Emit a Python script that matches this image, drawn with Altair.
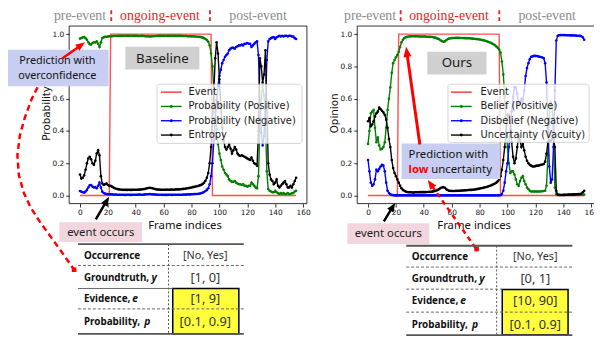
import math
import altair as alt
import pandas as pd

# ---------------- data ----------------
FRAMES = list(range(156))

LEFT_POS = [
    0.972, 0.976, 0.980, 0.982, 0.975, 0.965, 0.950, 0.937, 0.935, 0.945,
    0.950, 0.948, 0.955, 0.940, 0.920, 0.950, 0.976, 0.980, 0.983, 0.984,
    0.985, 0.986, 0.987, 0.987, 0.988, 0.988, 0.988, 0.989, 0.989, 0.989,
    0.989, 0.989, 0.990, 0.990, 0.989, 0.989, 0.990, 0.990, 0.989, 0.989,
    0.989, 0.989, 0.988, 0.988, 0.989, 0.989, 0.988, 0.987, 0.986, 0.986,
    0.985, 0.986, 0.987, 0.987, 0.988, 0.988, 0.989, 0.989, 0.989, 0.989,
    0.989, 0.990, 0.990, 0.989, 0.989, 0.989, 0.990, 0.989, 0.989, 0.989,
    0.989, 0.989, 0.989, 0.989, 0.988, 0.988, 0.988, 0.987, 0.987, 0.987,
    0.986, 0.986, 0.985, 0.985, 0.984, 0.984, 0.983, 0.981, 0.978, 0.975,
    0.970, 0.963, 0.953, 0.930, 0.880, 0.800, 0.660, 0.520, 0.410, 0.320,
    0.260, 0.220, 0.180, 0.160, 0.140, 0.130, 0.120, 0.100, 0.090, 0.085,
    0.085, 0.090, 0.080, 0.075, 0.070, 0.070, 0.065, 0.070, 0.060, 0.060,
    0.055, 0.060, 0.060, 0.080, 0.070, 0.060, 0.050, 0.045, 0.120, 0.420,
    0.600, 0.680, 0.620, 0.450, 0.150, 0.040, 0.030, 0.025, 0.020, 0.020,
    0.030, 0.020, 0.015, 0.010, 0.015, 0.010, 0.015, 0.010, 0.010, 0.015,
    0.010, 0.010, 0.015, 0.015, 0.025, 0.030,
]
LEFT_NEG = [
    0.028, 0.024, 0.020, 0.018, 0.025, 0.035, 0.050, 0.063, 0.065, 0.055,
    0.050, 0.052, 0.045, 0.060, 0.080, 0.050, 0.024, 0.016, 0.012, 0.010,
    0.009, 0.008, 0.007, 0.007, 0.006, 0.006, 0.006, 0.005, 0.005, 0.005,
    0.005, 0.005, 0.004, 0.004, 0.005, 0.005, 0.004, 0.004, 0.005, 0.005,
    0.005, 0.005, 0.006, 0.006, 0.005, 0.005, 0.006, 0.007, 0.008, 0.008,
    0.009, 0.008, 0.007, 0.007, 0.006, 0.006, 0.005, 0.005, 0.005, 0.005,
    0.005, 0.004, 0.004, 0.005, 0.005, 0.005, 0.004, 0.005, 0.005, 0.005,
    0.005, 0.005, 0.005, 0.005, 0.006, 0.006, 0.006, 0.007, 0.007, 0.007,
    0.008, 0.008, 0.009, 0.010, 0.010, 0.011, 0.012, 0.014, 0.018, 0.022,
    0.028, 0.035, 0.045, 0.070, 0.120, 0.200, 0.340, 0.480, 0.590, 0.680,
    0.740, 0.780, 0.820, 0.840, 0.860, 0.870, 0.880, 0.900, 0.910, 0.915,
    0.915, 0.910, 0.920, 0.925, 0.930, 0.930, 0.935, 0.930, 0.940, 0.940,
    0.945, 0.940, 0.940, 0.920, 0.930, 0.940, 0.950, 0.955, 0.870, 0.570,
    0.390, 0.310, 0.370, 0.540, 0.840, 0.955, 0.970, 0.975, 0.980, 0.980,
    0.970, 0.980, 0.985, 0.990, 0.985, 0.990, 0.985, 0.990, 0.990, 0.985,
    0.990, 0.990, 0.985, 0.985, 0.975, 0.970,
]
LEFT_ENT = [
    0.130, 0.105, 0.110, 0.125, 0.160, 0.200, 0.230, 0.240, 0.225, 0.200,
    0.190, 0.215, 0.260, 0.280, 0.250, 0.120, 0.075, 0.065, 0.070, 0.075,
    0.065, 0.060, 0.060, 0.055, 0.050, 0.045, 0.042, 0.040, 0.038, 0.037,
    0.036, 0.035, 0.036, 0.035, 0.035, 0.036, 0.035, 0.035, 0.036, 0.036,
    0.036, 0.036, 0.037, 0.037, 0.038, 0.039, 0.040, 0.042, 0.045, 0.047,
    0.048, 0.047, 0.045, 0.042, 0.040, 0.038, 0.037, 0.037, 0.036, 0.036,
    0.036, 0.036, 0.037, 0.036, 0.036, 0.037, 0.037, 0.036, 0.037, 0.038,
    0.038, 0.038, 0.039, 0.040, 0.041, 0.042, 0.043, 0.045, 0.046, 0.048,
    0.050, 0.052, 0.054, 0.056, 0.058, 0.060, 0.063, 0.066, 0.072, 0.080,
    0.092, 0.110, 0.140, 0.200, 0.300, 0.450, 0.650, 0.850, 0.950, 0.880,
    0.720, 0.550, 0.420, 0.340, 0.300, 0.285, 0.300, 0.320, 0.290, 0.260,
    0.280, 0.300, 0.285, 0.260, 0.250, 0.245, 0.250, 0.245, 0.240, 0.235,
    0.230, 0.225, 0.220, 0.235, 0.215, 0.200, 0.195, 0.185, 0.400, 0.850,
    0.800, 0.700, 0.750, 0.900, 0.550, 0.200, 0.130, 0.100, 0.090, 0.070,
    0.080, 0.100, 0.060, 0.050, 0.060, 0.070, 0.080, 0.090, 0.070, 0.050,
    0.050, 0.060, 0.050, 0.070, 0.090, 0.110,
]
RIGHT_BEL = [
    0.320, 0.400, 0.510, 0.520, 0.530, 0.420, 0.330, 0.360, 0.310, 0.285,
    0.290, 0.300, 0.330, 0.420, 0.530, 0.600, 0.670, 0.760, 0.820, 0.840,
    0.856, 0.870, 0.890, 0.920, 0.950, 0.965, 0.975, 0.980, 0.983, 0.985,
    0.986, 0.986, 0.987, 0.987, 0.986, 0.986, 0.986, 0.985, 0.985, 0.985,
    0.985, 0.985, 0.984, 0.984, 0.983, 0.983, 0.982, 0.980, 0.978, 0.975,
    0.972, 0.968, 0.962, 0.957, 0.953, 0.955, 0.962, 0.968, 0.972, 0.974,
    0.975, 0.976, 0.976, 0.977, 0.977, 0.977, 0.976, 0.976, 0.976, 0.975,
    0.975, 0.975, 0.974, 0.974, 0.973, 0.972, 0.971, 0.970, 0.969, 0.968,
    0.967, 0.965, 0.963, 0.961, 0.959, 0.956, 0.953, 0.950, 0.946, 0.942,
    0.937, 0.931, 0.924, 0.915, 0.905, 0.885, 0.830, 0.750, 0.620, 0.450,
    0.300, 0.200, 0.140, 0.150, 0.150, 0.130, 0.100, 0.070, 0.060, 0.090,
    0.110, 0.120, 0.090, 0.070, 0.050, 0.040, 0.030, 0.025, 0.025, 0.025,
    0.025, 0.025, 0.025, 0.025, 0.026, 0.027, 0.028, 0.030, 0.060, 0.250,
    0.480, 0.580, 0.550, 0.350, 0.050, 0.010, 0.004, 0.003, 0.003, 0.003,
    0.003, 0.003, 0.003, 0.004, 0.004, 0.004, 0.004, 0.004, 0.004, 0.004,
    0.004, 0.004, 0.004, 0.005, 0.005, 0.006,
]
RIGHT_DIS = [
    0.220, 0.150, 0.080, 0.060, 0.070, 0.100, 0.160, 0.150, 0.165, 0.180,
    0.190, 0.185, 0.150, 0.080, 0.030, 0.015, 0.008, 0.004, 0.002, 0.001,
    0.001, 0.001, 0.001, 0.001, 0.001, 0.001, 0.001, 0.001, 0.001, 0.001,
    0.001, 0.001, 0.001, 0.001, 0.001, 0.001, 0.001, 0.001, 0.001, 0.001,
    0.001, 0.001, 0.001, 0.001, 0.001, 0.001, 0.001, 0.001, 0.001, 0.001,
    0.001, 0.001, 0.001, 0.001, 0.001, 0.001, 0.001, 0.001, 0.001, 0.001,
    0.001, 0.001, 0.001, 0.001, 0.001, 0.001, 0.001, 0.001, 0.001, 0.001,
    0.001, 0.001, 0.001, 0.001, 0.001, 0.001, 0.001, 0.001, 0.001, 0.001,
    0.001, 0.001, 0.001, 0.001, 0.001, 0.001, 0.001, 0.001, 0.001, 0.001,
    0.001, 0.001, 0.001, 0.001, 0.001, 0.002, 0.010, 0.030, 0.080, 0.150,
    0.200, 0.300, 0.410, 0.520, 0.610, 0.670, 0.670, 0.630, 0.570, 0.570,
    0.600, 0.580, 0.650, 0.740, 0.790, 0.820, 0.845, 0.860, 0.862, 0.865,
    0.865, 0.864, 0.862, 0.860, 0.858, 0.855, 0.850, 0.820, 0.700, 0.420,
    0.180, 0.080, 0.100, 0.300, 0.650, 0.960, 0.990, 0.993, 0.994, 0.994,
    0.994, 0.994, 0.993, 0.993, 0.993, 0.992, 0.992, 0.992, 0.991, 0.991,
    0.990, 0.990, 0.989, 0.987, 0.980, 0.965,
]
RIGHT_UNC = [
    0.460, 0.480, 0.430, 0.440, 0.460, 0.490, 0.510, 0.520, 0.545, 0.535,
    0.525, 0.515, 0.500, 0.470, 0.420, 0.350, 0.300, 0.220, 0.170, 0.140,
    0.120, 0.100, 0.080, 0.060, 0.045, 0.035, 0.030, 0.025, 0.022, 0.020,
    0.020, 0.020, 0.019, 0.019, 0.020, 0.020, 0.020, 0.021, 0.021, 0.021,
    0.021, 0.021, 0.022, 0.022, 0.023, 0.023, 0.024, 0.026, 0.028, 0.031,
    0.035, 0.040, 0.046, 0.050, 0.052, 0.048, 0.040, 0.034, 0.030, 0.029,
    0.028, 0.028, 0.028, 0.029, 0.029, 0.030, 0.030, 0.031, 0.031, 0.032,
    0.033, 0.033, 0.034, 0.035, 0.035, 0.036, 0.037, 0.038, 0.040, 0.041,
    0.043, 0.045, 0.047, 0.049, 0.051, 0.053, 0.056, 0.059, 0.062, 0.066,
    0.070, 0.075, 0.080, 0.088, 0.100, 0.120, 0.160, 0.220, 0.300, 0.400,
    0.500, 0.500, 0.450, 0.330, 0.240, 0.200, 0.230, 0.300, 0.370, 0.340,
    0.300, 0.320, 0.280, 0.240, 0.215, 0.200, 0.190, 0.185, 0.180, 0.180,
    0.182, 0.185, 0.185, 0.188, 0.190, 0.192, 0.195, 0.210, 0.260, 0.330,
    0.340, 0.340, 0.350, 0.350, 0.300, 0.030, 0.006, 0.004, 0.003, 0.003,
    0.004, 0.004, 0.005, 0.005, 0.006, 0.006, 0.006, 0.007, 0.007, 0.008,
    0.008, 0.009, 0.010, 0.012, 0.020, 0.030,
]
# event indicator as breakpoints of the step
EVENT_FRAMES = [0, 21, 22, 94, 95, 155]
EVENT_VALUES = [0, 0, 1, 1, 0, 0]

X_TICKS = [0, 20, 40, 60, 80, 100, 120, 140, 160]
Y_TICKS = [0.0, 0.2, 0.4, 0.6, 0.8, 1.0]

LEFT_LEGEND = ["Event", "Probability (Positive)", "Probability (Negative)", "Entropy"]
RIGHT_LEGEND = ["Event", "Belief (Positive)", "Disbelief (Negative)", "Uncertainty (Vacuity)"]
PHASES = ["pre-event", "ongoing-event", "post-event"]
ROW_LABELS = ["Occurrence", "Groundtruth,", "Evidence,", "Probability,"]
ROW_VARS = ["y", "e", "p"]
LEFT_VALUES = ["[No, Yes]", "[1, 0]", "[1, 9]", "[0.1, 0.9]"]
RIGHT_VALUES = ["[No, Yes]", "[0, 1]", "[10, 90]", "[0.1, 0.9]"]

# ---------------- layout ----------------
OX, OY = 70, 24          # image position of the view origin
PW, PH = 241, 180        # panel plot size
RX0 = 292                # right panel x offset inside the view
XDOM = [-7.75, 162.75]
YDOM = [-0.05, 1.05]
RED, GREEN, BLUE = "#ff0000", "#008000", "#0000ff"
EVENT_RED = "#ff3030"


def px(x):
    return x - OX


def py(y):
    return y - OY


XN = lambda f="x": alt.X(f + ":Q", scale=None, axis=None)
YN = lambda f="y": alt.Y(f + ":Q", scale=None, axis=None)


def panel(x0, series, ytitle, xtitle_x):
    xs = alt.Scale(domain=XDOM, range=[x0, x0 + PW], nice=False, zero=False)
    ys = alt.Scale(domain=YDOM, range=[PH, 0], nice=False, zero=False)
    xa = alt.Axis(orient="bottom", values=X_TICKS, format="d", grid=False, domain=False,
                  tickSize=3.5, tickWidth=0.8, tickColor="black",
                  labelFont="DejaVu Sans", labelFontSize=7.5, labelColor="#111",
                  labelPadding=1.5, labelFlush=False, labelOverlap=False,
                  title="Frame indices", titleFont="Noto Sans", titleFontSize=11.5,
                  titleFontWeight="normal", titleColor="#111",
                  titleX=xtitle_x, titleY=22.5, titleAlign="center", titleBaseline="middle")
    ya = alt.Axis(orient="left", offset=-x0, values=Y_TICKS, format=".1f", grid=False,
                  domain=False, tickSize=3.5, tickWidth=0.8, tickColor="black",
                  labelFont="DejaVu Sans", labelFontSize=7.5, labelColor="#111",
                  labelPadding=2,
                  title=ytitle, titleFont="DejaVu Sans", titleFontSize=10.5,
                  titleFontWeight="normal", titleColor="#111",
                  titleX=-22.5, titleY=88, titleAngle=270, titleAlign="center",
                  titleBaseline="middle")
    X = alt.X("frame:Q", scale=xs, axis=xa)
    Y = alt.Y("v:Q", scale=ys, axis=ya)
    layers = []
    ev = pd.DataFrame({"frame": EVENT_FRAMES, "v": EVENT_VALUES})
    layers.append(alt.Chart(ev).mark_line(color=EVENT_RED, strokeWidth=1.4, opacity=0.85)
                  .encode(x=X, y=Y))
    for vals, col in series:
        df = pd.DataFrame({"frame": FRAMES, "v": vals})
        layers.append(alt.Chart(df).mark_line(
            color=col, strokeWidth=1.4,
            point=alt.OverlayMarkDef(color=col, filled=True, size=7, opacity=1))
            .encode(x=X, y=Y))
    fr = pd.DataFrame({"frame": [XDOM[0]], "frame2": [XDOM[1]], "v": [YDOM[0]], "v2": [YDOM[1]]})
    layers.append(alt.Chart(fr).mark_rect(fillOpacity=0, stroke="black", strokeWidth=0.8)
                  .encode(x=X, x2="frame2:Q", y=Y, y2="v2:Q"))
    return alt.layer(*layers)


left = panel(0, [(LEFT_POS, GREEN), (LEFT_NEG, BLUE), (LEFT_ENT, "black")],
             "Probability", 117)
right = panel(RX0, [(RIGHT_BEL, GREEN), (RIGHT_DIS, BLUE), (RIGHT_UNC, "black")],
              "Opinion", 410)


def texts(items, **mk):
    df = pd.DataFrame([{"x": px(x), "y": py(y), "t": t} for (t, x, y) in items])
    return alt.Chart(df).mark_text(**mk).encode(x=XN(), y=YN(), text="t:N")


def rects(items, **mk):
    df = pd.DataFrame([{"x": px(a), "y": py(b), "x2": px(c), "y2": py(d)} for (a, b, c, d) in items])
    return alt.Chart(df).mark_rect(**mk).encode(x=XN(), x2="x2:Q", y=YN(), y2="y2:Q")


def rules(items, **mk):
    df = pd.DataFrame([{"x": px(a), "y": py(b), "x2": px(c), "y2": py(d)} for (a, b, c, d) in items])
    return alt.Chart(df).mark_rule(**mk).encode(x=XN(), x2="x2:Q", y=YN(), y2="y2:Q")


def points(items, **mk):
    df = pd.DataFrame([{"x": px(a), "y": py(b)} for (a, b) in items])
    return alt.Chart(df).mark_point(**mk).encode(x=XN(), y=YN())


def path(pts, **mk):
    df = pd.DataFrame([{"x": px(a), "y": py(b), "i": i} for i, (a, b) in enumerate(pts)])
    return alt.Chart(df).mark_line(**mk).encode(x=XN(), y=YN(), order="i:Q")


HEAD = "M0,-1L0.75,0.9L-0.75,0.9Z"


def arrow(tail, tip, color, width, head=110, dash=None):
    dx, dy = tip[0] - tail[0], tip[1] - tail[1]
    L = math.hypot(dx, dy)
    ux, uy = dx / L, dy / L
    r = math.sqrt(head) / 2
    cx, cy = tip[0] - ux * r, tip[1] - uy * r
    ang = math.degrees(math.atan2(dx, -dy)) % 360
    mk = dict(color=color, strokeWidth=width)
    if dash:
        mk["strokeDash"] = dash
    shaft = rules([(tail[0], tail[1], cx, cy)], **mk)
    hd = pd.DataFrame([{"x": px(cx), "y": py(cy), "a": ang}])
    headm = alt.Chart(hd).mark_point(shape=HEAD, filled=True, size=head, color=color,
                                     opacity=1, strokeWidth=0).encode(
        x=XN(), y=YN(), angle=alt.Angle("a:Q", scale=None))
    return [shaft, headm]


ann = []
# phase labels above the panels
GRAY_T = "#8c8c8c"
ann.append(texts([(PHASES[0], 81, 17.5), (PHASES[2], 261.5, 17.5),
                  (PHASES[0], 375, 17.5), (PHASES[2], 554.5, 17.5)],
                 font="Liberation Serif", fontSize=14, color=GRAY_T, align="center",
                 baseline="alphabetic"))
ann.append(texts([(PHASES[1], 162, 17.5), (PHASES[1], 455, 17.5)],
                 font="Liberation Serif", fontSize=14, color="#ee1c25", align="center",
                 baseline="alphabetic"))
ann.append(rules([(112.7, 8, 112.7, 22), (212.7, 8, 212.7, 22),
                  (406, 8, 406, 22), (506, 8, 506, 22)],
                 color="#ee1c25", strokeWidth=1.8, strokeDash=[4, 3]))

# legends
ROWS = [91, 105.5, 120, 134.5]
ann.append(rects([(159, 83, 306, 143), (454, 83, 597, 142)], fill="white", opacity=0.8,
                 stroke="#cccccc", strokeWidth=1, cornerRadius=2.5))
for hx0, hx1 in [(163, 184), (457, 478)]:
    for row, col in zip(ROWS, [EVENT_RED, GREEN, BLUE, "black"]):
        ann.append(rules([(hx0, row, hx1, row)], color=col, strokeWidth=1.4))
        if col != EVENT_RED:
            ann.append(points([((hx0 + hx1) / 2, row)], filled=True, size=9, color=col, opacity=1))
ann.append(texts([(t, 191, r) for t, r in zip(LEFT_LEGEND, ROWS)] +
                 [(t, 487, r) for t, r in zip(RIGHT_LEGEND, ROWS)],
                 font="DejaVu Sans", fontSize=10, color="#1a1a1a", align="left", baseline="middle"))

# method label boxes
ann.append(rects([(127, 45, 202, 68), (433, 50, 493, 73)], fill="#d0d0d0"))
ann.append(texts([("Baseline", 164.5, 57), ("Ours", 463, 62)], font="Noto Sans", fontSize=13.5,
                 color="#1a1a1a", align="center", baseline="middle"))

# callout boxes
ann.append(rects([(8, 48, 110, 85), (407, 143, 507, 179)], fill="#c8cdf2"))
ann.append(texts([("Prediction with", 58, 59), ("overconfidence", 58, 75)], font="Noto Sans",
                 fontSize=11, color="#111", align="center", baseline="middle"))
ann.append(texts([("Prediction with", 414, 154.5), ("uncertainty", 437, 169.5)], font="Noto Sans",
                 fontSize=11.5, color="#111", align="left", baseline="middle"))
ann.append(texts([("low", 414, 169.5)], font="Noto Sans", fontSize=11.5, fontWeight="bold",
                 color="#ff0000", align="left", baseline="middle"))

ann.append(rects([(60, 223, 144, 243), (352, 224, 435, 245)], fill="#f2d5dd"))
ann.append(texts([("event occurs", 102, 233.5), ("event occurs", 393.5, 234.5)], font="Noto Sans",
                 fontSize=11.5, color="#222", align="center", baseline="middle"))

# arrows
ann += arrow((63, 57), (86, 40.5), RED, 2.5, head=100)
ann += arrow((425.5, 144), (411.5, 45), RED, 3, head=120)
ann += arrow((97, 220), (110.5, 197), "black", 2.5, head=100)
ann += arrow((389, 222), (400.5, 203), "black", 2.5, head=100)
ann += arrow((482, 249), (433.5, 180), RED, 2.5, head=100, dash=[5, 4])
ann.append(path([(38, 86), (32, 98), (25, 117), (20, 135), (17.5, 155), (19, 175), (24, 193),
                 (31, 208), (40, 222), (53, 240), (66, 258), (75, 271)],
                color=RED, strokeWidth=2.5, strokeDash=[6, 4]))
ann.append(points([(75, 271), (483, 250)], shape="square", filled=True, size=22, color=RED, opacity=1))

# tables
ann.append(rects([(175, 290, 242, 336), (509, 291, 575.7, 337)], fill="#ffff3c",
                 stroke="black", strokeWidth=1.5))
ann.append(rules([(79, 245, 247, 245), (79, 336, 247, 336),
                  (411.7, 246.7, 580, 246.7), (411.7, 337.3, 580, 337.3)],
                 color="#555555", strokeWidth=1.8))
ann.append(rules([(79, 290, 175, 290)], color="#666666", strokeWidth=1))
ann.append(rules([(79, 266.7, 247, 266.7), (79, 310.7, 247, 310.7),
                  (411.7, 268.3, 580, 268.3), (411.7, 290.7, 509, 290.7), (411.7, 314, 580, 314)],
                 color="#666666", strokeWidth=1, strokeDash=[3, 2]))
ann.append(rules([(170.7, 245, 170.7, 336), (503.3, 246.7, 503.3, 337.3)],
                 color="#555555", strokeWidth=1, strokeDash=[2, 2]))

LROWS = [256.7, 279, 301, 324]
RROWS = [258.3, 280, 302.7, 326.7]
ann.append(texts([(t, 85, r) for t, r in zip(ROW_LABELS, LROWS)] +
                 [(t, 417.3, r) for t, r in zip(ROW_LABELS, RROWS)],
                 font="Noto Sans", fontSize=10, fontWeight="bold", color="#111",
                 align="left", baseline="middle"))
VAR_X = [153.5, 134, 146]
ann.append(texts([(v, x, r) for v, x, r in zip(ROW_VARS, VAR_X, LROWS[1:])] +
                 [(v, x + 332.3, r) for v, x, r in zip(ROW_VARS, VAR_X, RROWS[1:])],
                 font="Noto Sans", fontSize=10.5, fontWeight="bold", fontStyle="italic",
                 color="#111", align="left", baseline="middle"))
ann.append(texts([(LEFT_VALUES[0], 208, LROWS[0]), (RIGHT_VALUES[0], 542.5, RROWS[0])],
                 font="Noto Sans", fontSize=11, color="#333", align="center", baseline="middle"))
ann.append(texts([(t, 208, r) for t, r in zip(LEFT_VALUES[1:], LROWS[1:])] +
                 [(t, 542.5, r) for t, r in zip(RIGHT_VALUES[1:], RROWS[1:])],
                 font="Noto Sans", fontSize=13, color="#333", align="center", baseline="middle"))

chart = (
    alt.layer(left, right, *ann)
    .resolve_scale(x="independent", y="independent")
    .properties(width=524, height=PH,
                autosize=alt.AutoSizeParams(type="none"),
                padding={"left": 62, "top": 16, "right": 8, "bottom": 139},
                background="white")
    .configure_view(stroke=None)
)

chart.save("out.html", embed_options={"renderer": "svg", "actions": False})
